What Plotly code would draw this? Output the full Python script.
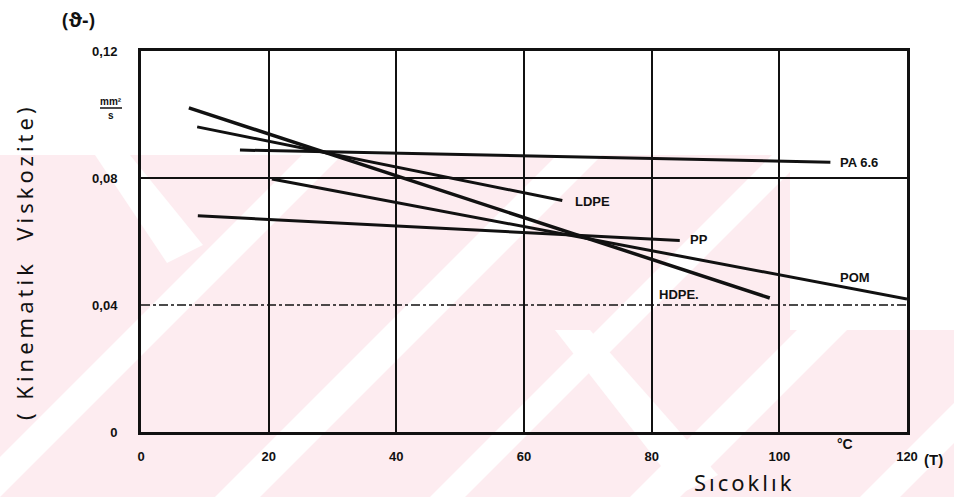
import plotly.graph_objects as go

# Kinematic viscosity of polymer melts vs temperature
series_names = ["PA 6.6", "LDPE", "PP", "POM", "HDPE"]
label_texts = ["PA 6.6", "LDPE", "PP", "POM", "HDPE."]
t_start = [15.5, 8.8, 8.9, 20.5, 7.5]        # °C
t_end = [108.0, 66.0, 84.4, 120.0, 98.5]      # °C
v_start = [0.0888, 0.0961, 0.0681, 0.0797, 0.1021]   # mm²/s
v_end = [0.0850, 0.0729, 0.0603, 0.0419, 0.0422]     # mm²/s

label_t = [109.2, 67.7, 85.7, 109.2, 80.8]
label_v = [0.0850, 0.0725, 0.0606, 0.0488, 0.0433]

x_ticks = [0, 20, 40, 60, 80, 100, 120]
x_tick_text = ["0", "20", "40", "60", "80", "100", "120"]
y_ticks = [0, 0.04, 0.08, 0.12]
y_tick_text = ["0", "0,04", "0,08", "0,12"]

# plot-area geometry in pixels (954 x 497 page)
W, H = 954, 497
L, R, T, B = 141, 47, 51, 65
PW, PH = W - L - R, H - T - B


def px(x):
    return (x - L) / PW


def py(y):
    return (H - B - y) / PH


fig = go.Figure()

for name, t0, t1, v0, v1 in zip(series_names, t_start, t_end, v_start, v_end):
    fig.add_trace(go.Scatter(
        x=[t0, t1], y=[v0, v1], mode="lines", name=name,
        line=dict(color="#111111", width=3.5 if name == "HDPE" else 3),
        showlegend=False, hoverinfo="skip",
    ))

shapes = []

# pale pink background wash with white diagonal bands
pink = "rgb(253,236,240)"
shapes.append(dict(type="path", xref="paper", yref="paper", layer="below",
                   path=f"M {px(0)},{py(155)} L {px(790)},{py(155)} L {px(790)},{py(330)} "
                        f"L {px(954)},{py(330)} L {px(954)},{py(497)} L {px(0)},{py(497)} Z",
                   fillcolor=pink, line=dict(width=0)))
for xb, wb in [(-40, 40), (215, 45), (430, 35), (630, 50), (860, 40)]:
    h = 342
    shapes.append(dict(type="path", xref="paper", yref="paper", layer="below",
                       path=f"M {px(xb)},{py(497)} L {px(xb + wb)},{py(497)} "
                            f"L {px(xb + wb + h)},{py(155)} L {px(xb + h)},{py(155)} Z",
                       fillcolor="white", line=dict(width=0)))
for xa, ya, xb2, yb2 in [(95, 155, 185, 245), (555, 330, 700, 475)]:
    shapes.append(dict(type="path", xref="paper", yref="paper", layer="below",
                       path=f"M {px(xa)},{py(ya)} L {px(xa + 35)},{py(ya)} "
                            f"L {px(xb2 + 18)},{py(yb2)} L {px(xb2 - 18)},{py(yb2 + 18)} Z",
                       fillcolor="white", line=dict(width=0)))

# horizontal grid lines
shapes.append(dict(type="line", xref="paper", yref="y", x0=0, x1=1,
                   y0=y_ticks[2], y1=y_ticks[2], line=dict(color="#111111", width=2.2)))
shapes.append(dict(type="line", xref="paper", yref="y", x0=0, x1=1,
                   y0=y_ticks[1], y1=y_ticks[1],
                   line=dict(color="#111111", width=1.6, dash="dashdot")))

# unit fraction bar
shapes.append(dict(type="line", xref="paper", yref="paper",
                   x0=px(100), x1=px(122), y0=py(108), y1=py(108),
                   line=dict(color="#111111", width=1.5)))

annotations = []
for txt, lt, lv in zip(label_texts, label_t, label_v):
    annotations.append(dict(x=lt, y=lv, xref="x", yref="y", text=f"<b>{txt}</b>",
                            showarrow=False, xanchor="left", yanchor="middle",
                            font=dict(family="Liberation Sans", size=13, color="#111111")))

hand = "Noto Sans"


def note(x, y, text, size, family=hand, angle=0):
    return dict(x=px(x), y=py(y), xref="paper", yref="paper", text=text,
                textangle=angle, showarrow=False, xanchor="center", yanchor="middle",
                font=dict(family=family, size=size, color="#111111"))


annotations += [
    note(24, 262, '<span style="letter-spacing:4px">( Kinematik  Viskozite)</span>', 22, angle=-90),
    note(744, 482, '<span style="letter-spacing:3px">Sıcoklık</span>', 22),
    note(78, 20, "<b>(ϑ-)</b>", 19),
    note(111, 101, "<b>mm²</b>", 10, "Liberation Sans"),
    note(111, 116, "<b>s</b>", 10, "Liberation Sans"),
    note(845, 444, "<b>°C</b>", 14, "Liberation Sans"),
    note(933, 459, "<b>(T)</b>", 15, "Liberation Sans"),
]

fig.update_layout(
    width=W, height=H,
    margin=dict(l=L, r=R, t=T, b=B),
    paper_bgcolor="white", plot_bgcolor="rgba(0,0,0,0)",
    shapes=shapes, annotations=annotations,
    xaxis=dict(range=[0, 120], tickvals=x_ticks,
               ticktext=[f"<b>{t}</b>" for t in x_tick_text],
               showgrid=True, gridcolor="#111111", gridwidth=2.4,
               showline=True, mirror=True, linecolor="#111111", linewidth=3,
               zeroline=False, ticks="", ticklabelstandoff=10,
               tickfont=dict(family="Liberation Sans", size=13, color="#111111")),
    yaxis=dict(range=[0, 0.12], tickvals=y_ticks,
               ticktext=[f"<b>{t}</b>" for t in y_tick_text],
               showgrid=False, showline=True, mirror=True, linecolor="#111111", linewidth=3,
               zeroline=False, ticks="", ticklabelstandoff=18,
               tickfont=dict(family="Liberation Sans", size=13, color="#111111")),
)

fig.write_html("out.html")
